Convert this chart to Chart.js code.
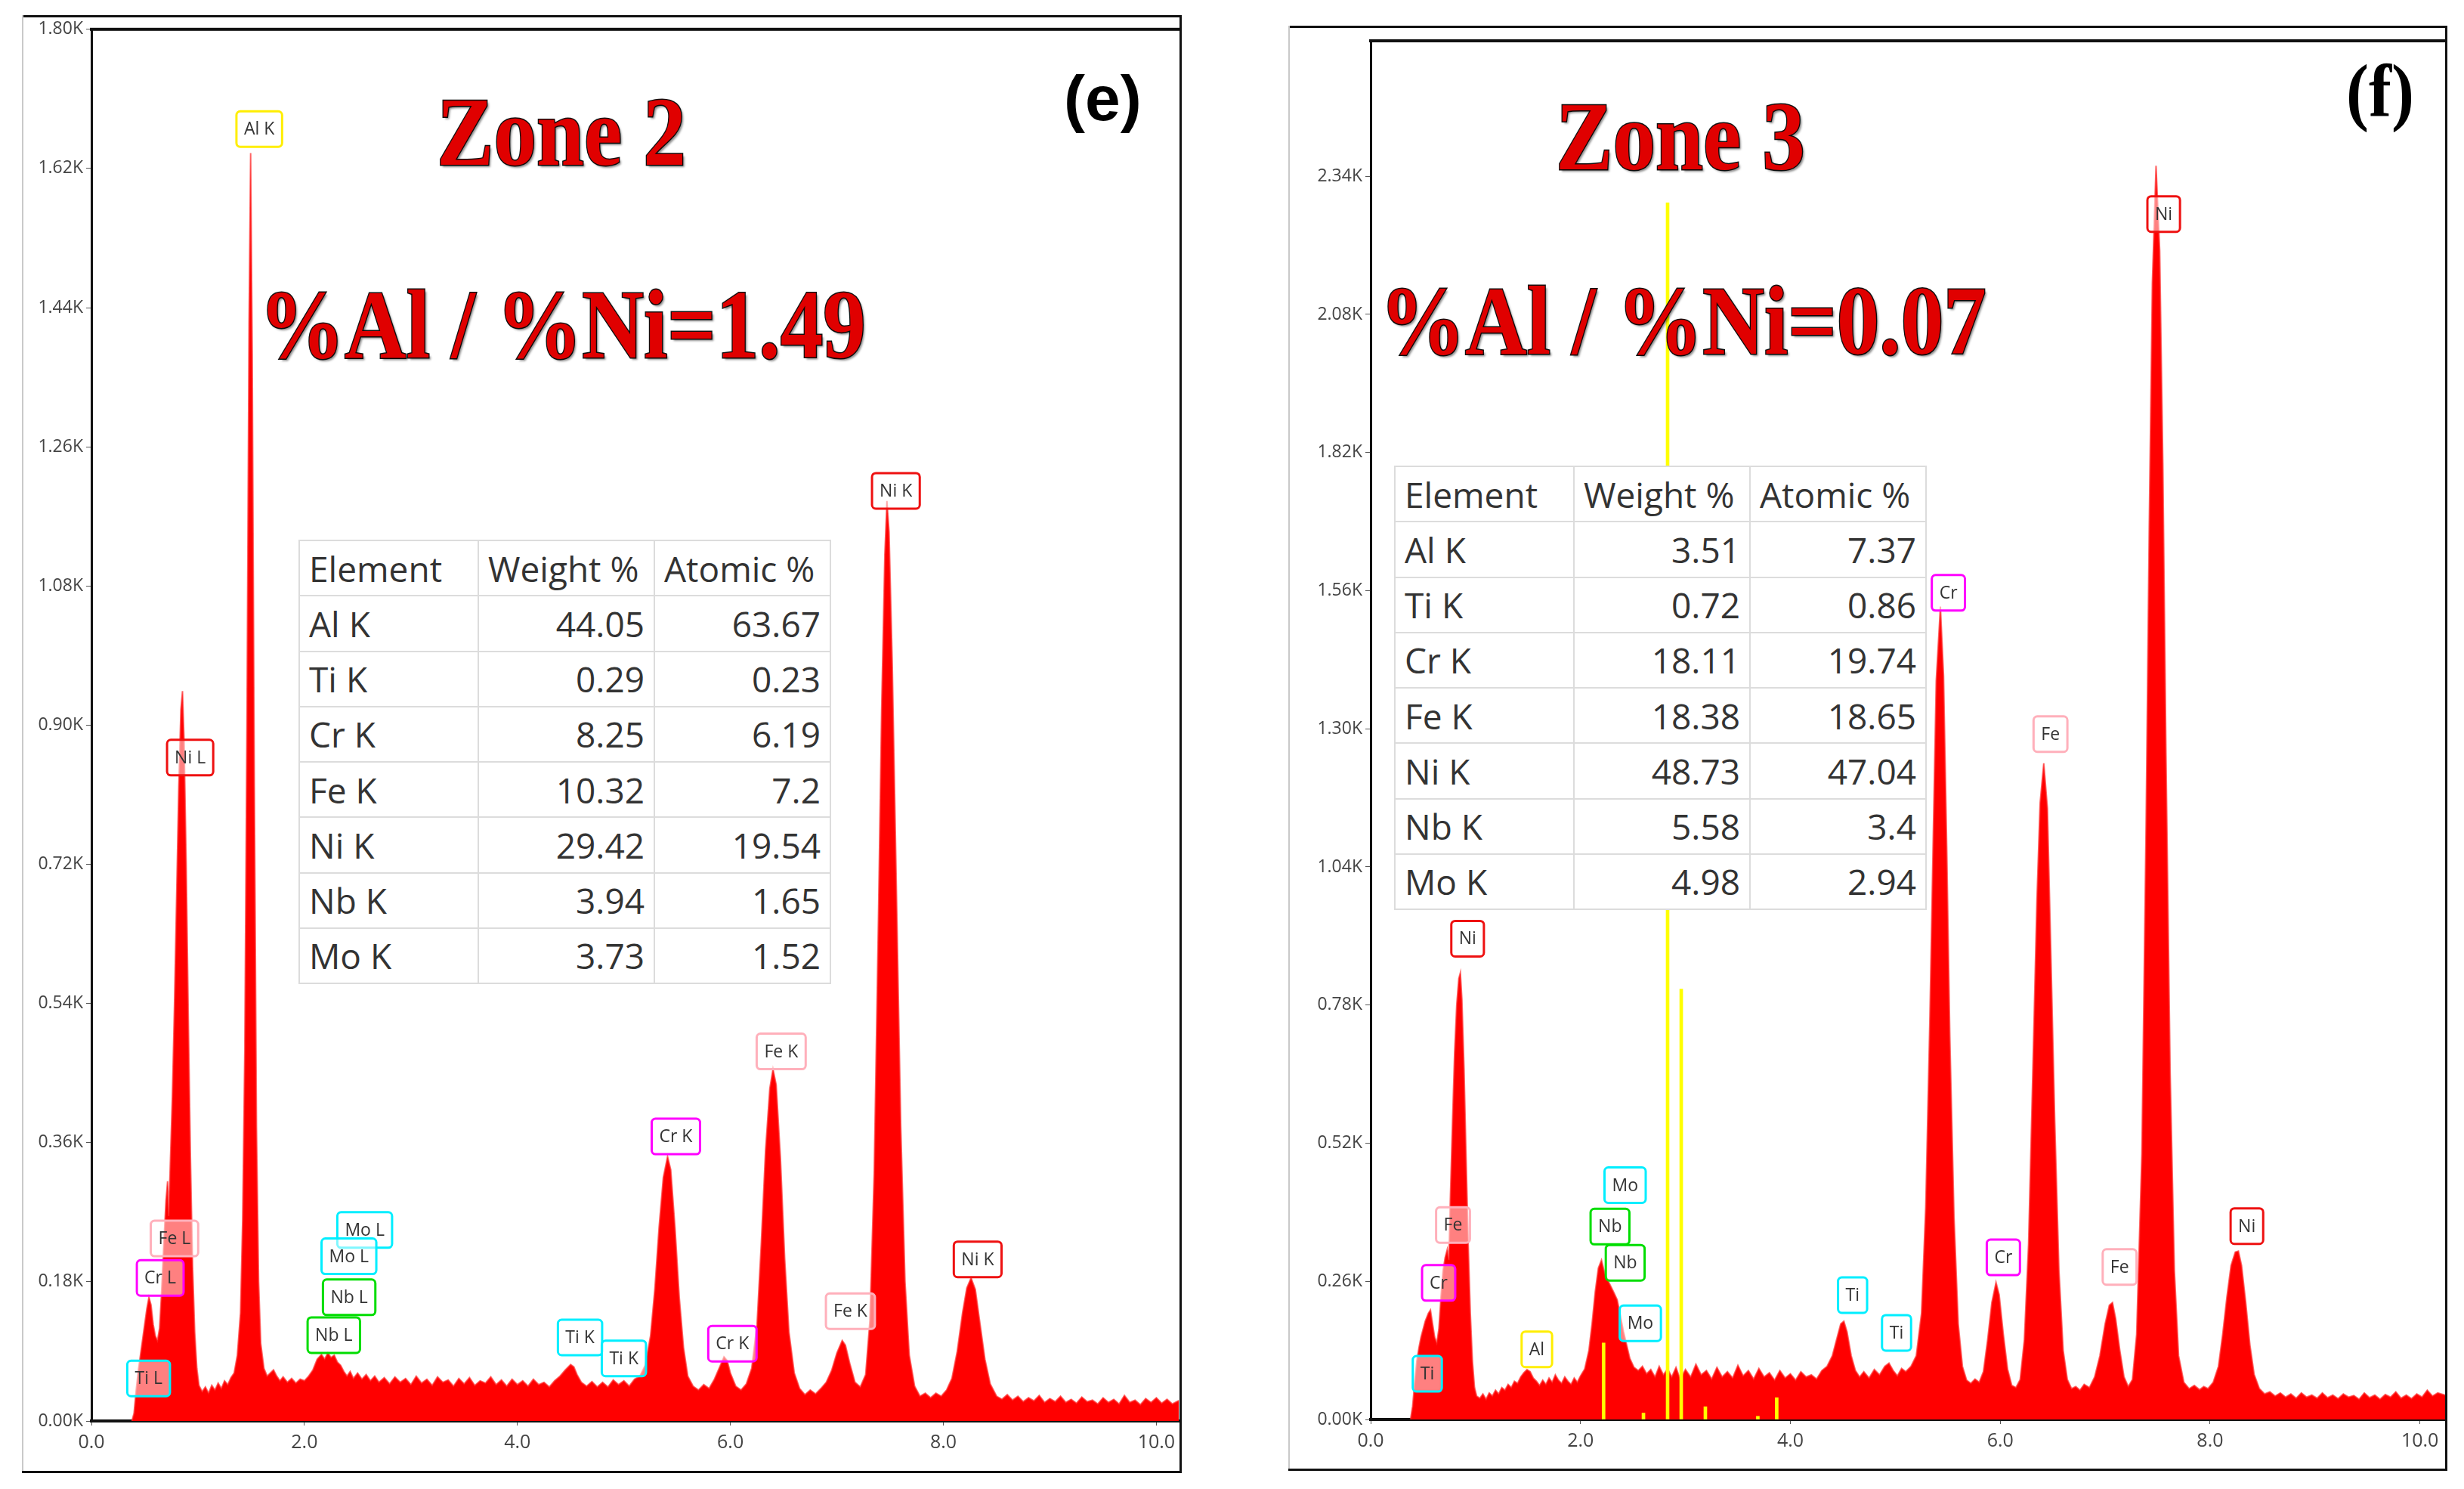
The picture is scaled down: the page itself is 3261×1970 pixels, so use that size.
<!DOCTYPE html>
<html>
<head>
<meta charset="utf-8">
<script src="https://cdn.jsdelivr.net/npm/chart.js@4.4.1/dist/chart.umd.min.js"></script>
<style>
  html, body { margin: 0; padding: 0; background: #fff; }
  body { width: 3261px; height: 1970px; position: relative; overflow: hidden; }
  canvas { position: absolute; }
  .line { position: absolute; background: #111; }
  .line.grey { background: #c9c9c9; }
  table.eds {
    position: absolute; border-collapse: collapse; table-layout: fixed; background: #fff;
    font-family: "Open Sans", sans-serif; font-size: 46px; color: #333;
    width: 703px; height: 588px;
  }
  table.eds td { border: 2px solid #dcdcdc; padding: 0 12px; white-space: nowrap; line-height: 1; }
  table.eds td.num { text-align: right; }
  .title {
    position: absolute; font-family: "Liberation Serif", serif; font-weight: bold;
    font-size: 130px; line-height: 130px; color: #e00000;
    -webkit-text-stroke: 3px #111; paint-order: stroke fill;
    text-shadow: 3px 3px 3px rgba(0,0,0,0.45);
    transform-origin: 0 0; transform: scaleX(0.87); white-space: nowrap;
  }
  .tag { position: absolute; font-weight: bold; color: #000; white-space: nowrap; }
</style>
</head>
<body>

<!-- panel frames -->
<div class="line" style="left:29px;top:20px;width:1535px;height:3px"></div>
<div class="line grey" style="left:29px;top:20px;width:2px;height:1929px"></div>
<div class="line" style="left:1561px;top:20px;width:3px;height:1929px"></div>
<div class="line" style="left:29px;top:1946px;width:1535px;height:3px"></div>

<div class="line" style="left:1705px;top:34px;width:1534px;height:3px"></div>
<div class="line grey" style="left:1705px;top:34px;width:2px;height:1912px"></div>
<div class="line" style="left:3236px;top:34px;width:3px;height:1912px"></div>
<div class="line" style="left:1705px;top:1943px;width:1534px;height:3px"></div>

<canvas id="zone2" width="1535" height="1928" style="left:29px;top:21px"></canvas>
<canvas id="zone3" width="1533" height="1910" style="left:1705px;top:35px"></canvas>

<table class="eds" id="table2" style="left:395px;top:714px"></table>
<table class="eds" id="table3" style="left:1845px;top:616px"></table>

<div class="title" style="left:578px;top:109px">Zone 2</div>
<div class="title" style="left:343px;top:364px">%Al / %Ni=1.49</div>
<div class="title" style="left:2059px;top:115px">Zone 3</div>
<div class="title" style="left:1826px;top:359px">%Al / %Ni=0.07</div>
<div class="tag" style="left:1408px;top:88px;font-family:'Liberation Sans',sans-serif;font-size:84px;line-height:84px">(e)</div>
<div class="tag" style="left:3105px;top:71px;font-family:'Liberation Serif',serif;font-size:100px;line-height:100px;transform:scaleX(0.9);transform-origin:0 0">(f)</div>

<script>
// axis ticks
const energyTicks = [0, 2, 4, 6, 8, 10];
const zone2CountTicks = [0, 180, 360, 540, 720, 900, 1080, 1260, 1440, 1620, 1800];
const zone3CountTicks = [0, 260, 520, 780, 1040, 1300, 1560, 1820, 2080, 2340];

// EDS spectra: [energy keV, counts]
const zone2Spectrum = [
  [0.38,0],[0.40,10],[0.42,40],[0.44,65],[0.46,85],[0.48,105],[0.50,125],[0.52,145],[0.54,160],[0.56,150],
  [0.58,125],[0.60,110],[0.62,104],[0.64,120],[0.66,170],[0.68,230],[0.70,285],[0.715,310],[0.725,265],[0.74,330],
  [0.76,420],[0.78,540],[0.80,680],[0.82,820],[0.84,920],[0.855,944],[0.87,880],[0.89,720],[0.91,520],[0.93,340],
  [0.95,200],[0.97,115],[0.99,68],[1.01,46],[1.04,38],[1.07,44],[1.10,36],[1.13,46],[1.16,40],[1.19,49],
  [1.22,42],[1.25,52],[1.28,47],[1.31,56],[1.34,62],[1.37,85],[1.40,140],[1.42,260],[1.44,480],[1.46,900],
  [1.48,1420],[1.495,1640],[1.51,1380],[1.53,820],[1.55,380],[1.57,180],[1.59,100],[1.62,68],[1.65,58],[1.68,62],
  [1.71,66],[1.74,58],[1.77,52],[1.80,57],[1.84,50],[1.88,55],[1.92,49],[1.96,54],[2.00,52],[2.04,58],
  [2.08,66],[2.12,80],[2.16,86],[2.19,80],[2.22,88],[2.25,82],[2.28,85],[2.31,76],[2.34,72],[2.37,64],
  [2.40,58],[2.43,64],[2.46,55],[2.50,62],[2.54,54],[2.58,60],[2.62,52],[2.66,58],[2.70,50],[2.75,56],
  [2.80,48],[2.85,57],[2.90,50],[2.95,55],[3.00,47],[3.05,58],[3.10,49],[3.15,54],[3.20,46],[3.25,57],
  [3.30,50],[3.35,53],[3.40,45],[3.45,55],[3.50,48],[3.55,56],[3.60,46],[3.65,52],[3.70,49],[3.75,57],
  [3.80,47],[3.85,53],[3.90,45],[3.95,54],[4.00,47],[4.05,52],[4.10,45],[4.15,54],[4.20,47],[4.25,50],
  [4.30,44],[4.35,52],[4.40,58],[4.45,66],[4.50,73],[4.53,70],[4.56,60],[4.60,50],[4.65,45],[4.70,51],
  [4.75,44],[4.80,50],[4.85,44],[4.90,53],[4.95,47],[5.00,52],[5.05,45],[5.10,54],[5.15,58],[5.20,72],
  [5.25,110],[5.29,170],[5.33,250],[5.37,315],[5.41,342],[5.44,325],[5.48,250],[5.52,160],[5.56,95],[5.60,58],
  [5.65,45],[5.70,40],[5.75,47],[5.80,42],[5.85,54],[5.90,70],[5.94,83],[5.97,78],[6.00,62],[6.05,45],
  [6.10,40],[6.15,48],[6.20,68],[6.25,125],[6.29,230],[6.33,350],[6.37,430],[6.40,455],[6.43,435],[6.47,340],
  [6.51,210],[6.55,115],[6.60,62],[6.65,42],[6.70,34],[6.75,40],[6.80,35],[6.85,42],[6.90,50],[6.95,65],
  [7.00,88],[7.05,104],[7.08,98],[7.12,75],[7.17,50],[7.22,44],[7.27,60],[7.31,130],[7.35,320],[7.39,650],
  [7.42,920],[7.45,1120],[7.47,1190],[7.49,1150],[7.52,980],[7.56,680],[7.60,380],[7.64,180],[7.68,85],[7.73,45],
  [7.78,32],[7.83,36],[7.88,30],[7.93,36],[7.98,32],[8.03,40],[8.08,55],[8.13,90],[8.18,140],[8.22,172],
  [8.26,185],[8.30,170],[8.34,130],[8.39,80],[8.44,48],[8.50,32],[8.55,28],[8.60,34],[8.65,27],[8.70,32],
  [8.75,25],[8.80,30],[8.85,26],[8.90,33],[8.95,24],[9.00,29],[9.05,25],[9.10,32],[9.15,24],[9.20,28],
  [9.25,23],[9.30,31],[9.35,25],[9.40,27],[9.45,22],[9.50,30],[9.55,24],[9.60,28],[9.65,22],[9.70,33],
  [9.75,24],[9.80,27],[9.85,21],[9.90,29],[9.95,24],[10.00,30],[10.05,23],[10.10,28],[10.15,22],[10.22,27]
];

const zone3Spectrum = [
  [0.38,0],[0.40,25],[0.42,70],[0.44,110],[0.46,135],[0.48,155],[0.50,170],[0.52,185],[0.55,200],[0.57,206],
  [0.59,180],[0.61,155],[0.63,144],[0.65,170],[0.67,230],[0.69,280],[0.71,305],[0.73,320],[0.745,300],[0.76,420],
  [0.78,560],[0.80,690],[0.82,780],[0.84,830],[0.855,841],[0.87,790],[0.89,660],[0.91,490],[0.93,330],[0.95,200],
  [0.97,110],[0.99,60],[1.01,44],[1.04,40],[1.07,48],[1.10,38],[1.13,50],[1.16,44],[1.19,55],[1.22,48],
  [1.25,60],[1.28,55],[1.31,66],[1.34,60],[1.37,72],[1.40,68],[1.43,80],[1.46,88],[1.49,94],[1.52,90],
  [1.55,78],[1.58,72],[1.61,64],[1.64,74],[1.67,66],[1.70,78],[1.73,70],[1.76,84],[1.79,74],[1.82,68],
  [1.85,80],[1.88,72],[1.91,66],[1.94,78],[1.97,70],[2.00,82],[2.04,95],[2.08,130],[2.11,180],[2.14,240],
  [2.17,285],[2.20,300],[2.23,275],[2.26,262],[2.29,250],[2.32,238],[2.35,225],[2.38,195],[2.41,165],[2.44,140],
  [2.47,115],[2.51,98],[2.55,92],[2.59,100],[2.63,86],[2.67,94],[2.71,80],[2.75,100],[2.79,84],[2.83,95],
  [2.87,80],[2.91,98],[2.95,76],[3.00,94],[3.05,80],[3.10,104],[3.15,84],[3.20,92],[3.25,76],[3.30,98],
  [3.35,80],[3.40,90],[3.45,78],[3.50,102],[3.55,82],[3.60,92],[3.65,76],[3.70,96],[3.75,80],[3.80,88],
  [3.85,74],[3.90,92],[3.95,78],[4.00,86],[4.05,74],[4.10,90],[4.15,80],[4.20,84],[4.25,76],[4.30,92],
  [4.35,100],[4.40,120],[4.44,150],[4.48,180],[4.51,185],[4.54,165],[4.58,120],[4.62,92],[4.66,80],[4.70,90],
  [4.75,78],[4.80,94],[4.85,84],[4.90,100],[4.94,106],[4.98,92],[5.02,82],[5.06,96],[5.10,90],[5.15,100],
  [5.20,120],[5.25,200],[5.29,400],[5.33,760],[5.36,1080],[5.39,1390],[5.43,1530],[5.46,1400],[5.49,1080],[5.52,720],
  [5.56,380],[5.60,180],[5.64,100],[5.68,74],[5.72,68],[5.76,76],[5.80,70],[5.84,90],[5.88,150],[5.92,220],
  [5.96,258],[5.99,235],[6.03,160],[6.07,95],[6.11,64],[6.15,60],[6.19,75],[6.23,150],[6.27,330],[6.31,650],
  [6.35,980],[6.38,1160],[6.415,1235],[6.45,1150],[6.48,900],[6.52,560],[6.56,280],[6.60,130],[6.64,75],[6.68,58],
  [6.72,62],[6.76,55],[6.80,66],[6.85,60],[6.90,80],[6.95,120],[7.00,180],[7.04,215],[7.07,220],[7.10,190],
  [7.14,130],[7.18,80],[7.22,62],[7.26,75],[7.30,160],[7.35,500],[7.39,1120],[7.42,1680],[7.45,2140],[7.485,2360],
  [7.52,2200],[7.55,1800],[7.58,1250],[7.62,650],[7.66,280],[7.70,120],[7.75,70],[7.80,58],[7.85,64],[7.90,56],
  [7.94,62],[7.98,58],[8.03,70],[8.08,100],[8.12,160],[8.16,230],[8.20,290],[8.24,315],[8.27,317],[8.30,290],
  [8.34,220],[8.38,140],[8.42,85],[8.47,58],[8.52,48],[8.57,52],[8.62,44],[8.67,50],[8.72,42],[8.77,48],
  [8.82,40],[8.87,50],[8.92,42],[8.97,46],[9.02,40],[9.07,50],[9.12,41],[9.17,46],[9.22,39],[9.27,48],
  [9.32,42],[9.37,45],[9.42,38],[9.47,50],[9.52,41],[9.57,46],[9.62,38],[9.67,47],[9.72,42],[9.77,52],
  [9.82,40],[9.87,46],[9.92,39],[9.97,48],[10.02,42],[10.07,55],[10.12,44],[10.17,50],[10.24,46]
];

// yellow KLM marker lines (zone 3)
const zone3MarkerKeV = [2.22, 2.60, 2.83, 2.96, 3.19, 3.69, 3.87];
const zone3MarkerCounts = [144, 12, 2290, 810, 24, 6, 41];

// peak labels
const zone2LabelText = ['Al K','Ni K','Ni L','Fe K','Cr K','Fe L','Cr L','Mo L','Mo L','Nb L','Nb L','Ti L','Ti K','Ti K','Cr K','Fe K','Ni K'];
const zone2LabelKeV = [1.576, 7.554, 0.927, 6.477, 5.488, 0.78, 0.646, 2.566, 2.418, 2.42, 2.276, 0.537, 4.588, 5.0, 6.019, 7.127, 8.322];
const zone2LabelCounts = [1671, 1203, 858, 478, 368, 236, 185, 247, 213, 160, 111, 55, 108, 81, 100, 142, 209];

const zone3LabelText = ['Ni','Cr','Fe','Ni','Mo','Nb','Fe','Nb','Cr','Ni','Fe','Cr','Ti','Mo','Ti','Al','Ti'];
const zone3LabelKeV = [7.558, 5.506, 6.479, 0.924, 2.425, 2.281, 0.785, 2.426, 6.03, 8.351, 7.138, 0.648, 4.593, 2.57, 5.012, 1.584, 0.54];
const zone3LabelCounts = [2269, 1556, 1290, 905, 441, 363, 366, 295, 305, 364, 287, 257, 234, 181, 163, 132, 86];

const elementColors = { Al: '#ffee00', Ni: '#ee1111', Fe: '#ffb0bb', Cr: '#ff00ff', Mo: '#00eeff', Ti: '#00eeff', Nb: '#00dd00' };

// quantification tables
const tableElements = ['Al K', 'Ti K', 'Cr K', 'Fe K', 'Ni K', 'Nb K', 'Mo K'];
const zone2Weight = ['44.05', '0.29', '8.25', '10.32', '29.42', '3.94', '3.73'];
const zone2Atomic = ['63.67', '0.23', '6.19', '7.2', '19.54', '1.65', '1.52'];
const zone3Weight = ['3.51', '0.72', '18.11', '18.38', '48.73', '5.58', '4.98'];
const zone3Atomic = ['7.37', '0.86', '19.74', '18.65', '47.04', '3.4', '2.94'];

function fillTable(id, weight, atomic) {
  let html = '<colgroup><col style="width:237px"><col style="width:233px"><col style="width:233px"></colgroup>';
  html += '<tr><td>Element</td><td>Weight %</td><td>Atomic %</td></tr>';
  tableElements.forEach((el, i) => {
    html += `<tr><td>${el}</td><td class="num">${weight[i]}</td><td class="num">${atomic[i]}</td></tr>`;
  });
  document.getElementById(id).innerHTML = html;
}

// draws the peak id boxes and the plot frame top line
function makeLabelPlugin(text, kev, counts) {
  return {
    id: 'peakLabels',
    afterDatasetsDraw(chart) {
      const { ctx, chartArea, scales: { x, y } } = chart;
      ctx.save();
      ctx.fillStyle = '#111';
      ctx.fillRect(chartArea.left - 2, chartArea.top - 2, chartArea.right - chartArea.left + 6, 4);
      ctx.font = '23px "Open Sans"';
      ctx.textAlign = 'center';
      ctx.textBaseline = 'middle';
      text.forEach((t, i) => {
        const px = x.getPixelForValue(kev[i]);
        const py = y.getPixelForValue(counts[i]);
        const w = ctx.measureText(t).width + 20;
        const h = 47;
        ctx.beginPath();
        ctx.roundRect(px - w / 2, py - h / 2, w, h, 5);
        ctx.fillStyle = 'rgba(255,255,255,0.5)';
        ctx.fill();
        ctx.lineWidth = 3;
        ctx.strokeStyle = elementColors[t.split(' ')[0]];
        ctx.stroke();
        ctx.fillStyle = '#333';
        ctx.fillText(t, px, py + 1);
      });
      ctx.restore();
    }
  };
}

function createSpectrum(canvasId, spectrum, cfg) {
  const datasets = [{
    data: spectrum.map(p => ({ x: p[0], y: p[1] })),
    borderColor: 'rgba(255,40,40,0.7)',
    borderWidth: 2,
    backgroundColor: '#ff0000',
    fill: 'origin',
    pointRadius: 0,
    tension: 0,
    order: 1
  }];
  if (cfg.markers) {
    datasets.push({
      type: 'bar',
      data: cfg.markers.kev.map((k, i) => ({ x: k, y: cfg.markers.counts[i] })),
      backgroundColor: '#ffff00',
      barThickness: 4,
      order: 0
    });
  }

  return new Chart(document.getElementById(canvasId), {
    type: 'line',
    data: { datasets },
    options: {
      responsive: false,
      animation: false,
      devicePixelRatio: 1,
      layout: { padding: { top: cfg.padTop, right: cfg.padRight, left: 0, bottom: 0 } },
      plugins: { legend: { display: false }, tooltip: { enabled: false } },
      scales: {
        x: {
          type: 'linear',
          min: 0,
          max: cfg.xMax,
          offset: false,
          afterFit: s => { s.height = cfg.xHeight; },
          afterBuildTicks: s => { s.ticks = energyTicks.map(v => ({ value: v })); },
          border: { display: true, color: '#111', width: 4 },
          grid: { display: true, offset: false, drawOnChartArea: false, drawTicks: true, tickLength: 6, color: '#555' },
          ticks: {
            autoSkip: false,
            maxRotation: 0,
            padding: 8,
            color: '#444',
            font: { family: 'Open Sans', size: 25 },
            callback: v => v.toFixed(1)
          }
        },
        y: {
          type: 'linear',
          min: 0,
          max: cfg.yMax,
          afterFit: s => { s.width = cfg.yWidth; },
          afterBuildTicks: s => { s.ticks = cfg.yTicks.map(v => ({ value: v })); },
          border: { display: true, color: '#111', width: 3 },
          grid: { display: true, drawOnChartArea: false, drawTicks: true, tickLength: 7, color: '#555' },
          ticks: {
            autoSkip: false,
            padding: 4,
            color: '#444',
            font: { family: 'Open Sans', size: 23 },
            callback: v => (v / 1000).toFixed(2) + 'K'
          }
        }
      }
    },
    plugins: [makeLabelPlugin(cfg.labels.text, cfg.labels.kev, cfg.labels.counts)]
  });
}

fillTable('table2', zone2Weight, zone2Atomic);
fillTable('table3', zone3Weight, zone3Atomic);

createSpectrum('zone2', zone2Spectrum, {
  xMax: 10.21, yMax: 1800, yTicks: zone2CountTicks,
  padTop: 17, padRight: 4, yWidth: 92, xHeight: 69,
  labels: { text: zone2LabelText, kev: zone2LabelKeV, counts: zone2LabelCounts }
});

createSpectrum('zone3', zone3Spectrum, {
  xMax: 10.24, yMax: 2595, yTicks: zone3CountTicks,
  padTop: 19, padRight: 2, yWidth: 109, xHeight: 67,
  labels: { text: zone3LabelText, kev: zone3LabelKeV, counts: zone3LabelCounts },
  markers: { kev: zone3MarkerKeV, counts: zone3MarkerCounts }
});
</script>
</body>
</html>
